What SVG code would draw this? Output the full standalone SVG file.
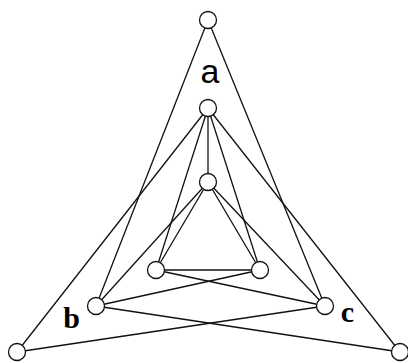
<svg xmlns="http://www.w3.org/2000/svg" width="408" height="363" viewBox="0 0 408 363">
<style>
.e{stroke:#111;stroke-width:1.3;fill:none}
.n{fill:#fff;stroke:#111;stroke-width:1.3}
.sans{font-family:"Liberation Sans",Arial,sans-serif;font-size:34px;fill:#000}
.ser{font-family:"Liberation Serif","Times New Roman",serif;font-size:30px;font-weight:bold;fill:#000}
</style>
<rect width="408" height="363" fill="#fff"/>
<g id="connectors">
<line class="e" x1="208" y1="20" x2="96" y2="306"/>
<line class="e" x1="208" y1="20" x2="325" y2="306"/>
<line class="e" x1="208" y1="108" x2="17" y2="352"/>
<line class="e" x1="208" y1="108" x2="400" y2="352"/>
<line class="e" x1="208" y1="108" x2="208" y2="182"/>
<line class="e" x1="208" y1="108" x2="156" y2="270"/>
<line class="e" x1="208" y1="108" x2="260" y2="270"/>
<line class="e" x1="208" y1="182" x2="156" y2="270"/>
<line class="e" x1="208" y1="182" x2="260" y2="270"/>
<line class="e" x1="208" y1="182" x2="96" y2="306"/>
<line class="e" x1="208" y1="182" x2="325" y2="306"/>
<line class="e" x1="156" y1="270" x2="260" y2="270"/>
<line class="e" x1="96" y1="306" x2="260" y2="270"/>
<line class="e" x1="325" y1="306" x2="156" y2="270"/>
<line class="e" x1="17" y1="352" x2="325" y2="306"/>
<line class="e" x1="400" y1="352" x2="96" y2="306"/>
</g>
<g id="T"><circle class="n" cx="208" cy="20" r="8.5"/></g>
<g id="A"><circle class="n" cx="208" cy="108" r="8.5"/></g>
<g id="B"><circle class="n" cx="208" cy="182" r="8.5"/></g>
<g id="IL"><circle class="n" cx="156" cy="270" r="8.5"/></g>
<g id="IR"><circle class="n" cx="260" cy="270" r="8.5"/></g>
<g id="ML"><circle class="n" cx="96" cy="306" r="8.5"/></g>
<g id="MR"><circle class="n" cx="325" cy="306" r="8.5"/></g>
<g id="BL"><circle class="n" cx="17" cy="352" r="8.5"/></g>
<g id="BR"><circle class="n" cx="400" cy="352" r="8.5"/></g>
<g id="labels">
<text class="sans" x="210" y="83" text-anchor="middle">a</text>
<text class="ser" x="71.5" y="328" text-anchor="middle">b</text>
<text class="ser" x="347.5" y="322" text-anchor="middle">c</text>
</g>
</svg>
